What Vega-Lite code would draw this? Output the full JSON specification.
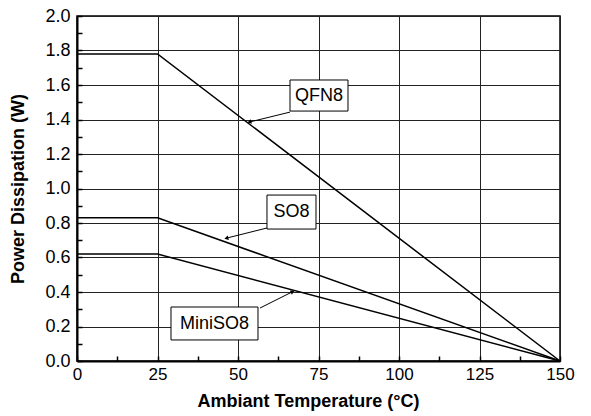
{
  "$schema": "https://vega.github.io/schema/vega-lite/v6.json",
  "width": 483,
  "height": 345,
  "autosize": {"type": "none"},
  "padding": {"left": 77, "top": 16, "right": 31, "bottom": 55},
  "background": "white",
  "config": {
    "view": {"stroke": "black", "strokeWidth": 1.5},
    "font": "Liberation Sans"
  },
  "datasets": {
    "curves": [
      {"series": "QFN8", "temp": 0, "power": 1.78},
      {"series": "QFN8", "temp": 25, "power": 1.78},
      {"series": "QFN8", "temp": 150, "power": 0},
      {"series": "SO8", "temp": 0, "power": 0.83},
      {"series": "SO8", "temp": 25, "power": 0.83},
      {"series": "SO8", "temp": 150, "power": 0},
      {"series": "MiniSO8", "temp": 0, "power": 0.62},
      {"series": "MiniSO8", "temp": 25, "power": 0.62},
      {"series": "MiniSO8", "temp": 150, "power": 0}
    ],
    "notes": [
      {"label": "QFN8", "bx1": 66.15, "bx2": 84.16, "by1": 1.449, "by2": 1.629, "tx": 75.16, "ty": 1.539, "ax1": 66.15, "ay1": 1.443, "ax2": 53.73, "ay2": 1.386},
      {"label": "SO8", "bx1": 59.0, "bx2": 74.22, "by1": 0.765, "by2": 0.962, "tx": 66.6, "ty": 0.864, "ax1": 59.0, "ay1": 0.771, "ax2": 46.58, "ay2": 0.713},
      {"label": "MiniSO8", "bx1": 29.19, "bx2": 56.21, "by1": 0.122, "by2": 0.313, "tx": 42.7, "ty": 0.217, "ax1": 56.83, "ay1": 0.307, "ax2": 66.77, "ay2": 0.4}
    ]
  },
  "layer": [
    {
      "data": {"name": "curves"},
      "mark": {"type": "line", "color": "black", "strokeWidth": 1.5},
      "encoding": {
        "x": {
          "field": "temp", "type": "quantitative",
          "scale": {"domain": [0, 150], "nice": false, "zero": false},
          "axis": {
            "title": "Ambiant Temperature (°C)",
            "values": [0, 12.5, 25, 37.5, 50, 62.5, 75, 87.5, 100, 112.5, 125, 137.5, 150],
            "tickCount": 50,
            "labelExpr": "datum.value % 25 === 0 ? datum.label : ''",
            "labelOverlap": false,
            "labelFontSize": 17, "labelColor": "black", "labelPadding": 10,
            "labelFlush": false,
            "titleFontSize": 18, "titleFontWeight": "bold", "titleColor": "black",
            "titlePadding": 10, "titleX": 231,
            "tickSize": -5, "tickColor": "black", "tickWidth": 1.5,
            "domainColor": "black", "domainWidth": 2,
            "grid": true, "gridColor": "#222", "gridWidth": 1,
            "gridOpacity": {"condition": {"test": "datum.value % 25 !== 0", "value": 0}, "value": 1}
          }
        },
        "y": {
          "field": "power", "type": "quantitative",
          "scale": {"domain": [0, 2], "nice": false, "zero": false},
          "axis": {
            "title": "Power Dissipation (W)",
            "values": [0, 0.1, 0.2, 0.3, 0.4, 0.5, 0.6, 0.7, 0.8, 0.9, 1.0, 1.1, 1.2, 1.3, 1.4, 1.5, 1.6, 1.7, 1.8, 1.9, 2.0],
            "tickCount": 50,
            "labelExpr": "round(datum.value * 10) % 2 === 0 ? format(datum.value, '.1f') : ''",
            "labelOverlap": false,
            "labelFontSize": 18, "labelColor": "black", "labelPadding": 12,
            "labelFlush": false,
            "titleFontSize": 18, "titleFontWeight": "bold", "titleColor": "black",
            "titlePadding": 17,
            "tickSize": -5, "tickColor": "black", "tickWidth": 1.5,
            "domainColor": "black", "domainWidth": 2,
            "grid": true, "gridColor": "#222", "gridWidth": 1,
            "gridOpacity": {"condition": {"test": "round(datum.value * 10) % 2 !== 0", "value": 0}, "value": 1}
          }
        },
        "detail": {"field": "series"}
      }
    },
    {
      "data": {"name": "notes"},
      "mark": {"type": "rule", "color": "black", "strokeWidth": 1},
      "encoding": {
        "x": {"field": "ax1", "type": "quantitative"},
        "y": {"field": "ay1", "type": "quantitative"},
        "x2": {"field": "ax2"},
        "y2": {"field": "ay2"}
      }
    },
    {
      "data": {"name": "notes"},
      "transform": [{"filter": "datum.label !== 'MiniSO8'"}],
      "mark": {"type": "point", "shape": "triangle", "filled": true, "color": "black", "size": 22, "angle": 256, "opacity": 1},
      "encoding": {
        "x": {"field": "ax2", "type": "quantitative"},
        "y": {"field": "ay2", "type": "quantitative"}
      }
    },
    {
      "data": {"name": "notes"},
      "transform": [{"filter": "datum.label === 'MiniSO8'"}],
      "mark": {"type": "point", "shape": "triangle", "filled": true, "color": "black", "size": 22, "angle": 63, "opacity": 1},
      "encoding": {
        "x": {"field": "ax2", "type": "quantitative"},
        "y": {"field": "ay2", "type": "quantitative"}
      }
    },
    {
      "data": {"name": "notes"},
      "mark": {"type": "rect", "fill": "white", "stroke": "black", "strokeWidth": 1},
      "encoding": {
        "x": {"field": "bx1", "type": "quantitative"},
        "x2": {"field": "bx2"},
        "y": {"field": "by1", "type": "quantitative"},
        "y2": {"field": "by2"}
      }
    },
    {
      "data": {"name": "notes"},
      "mark": {"type": "text", "fontSize": 18, "color": "black", "align": "center", "baseline": "middle", "font": "Liberation Sans"},
      "encoding": {
        "x": {"field": "tx", "type": "quantitative"},
        "y": {"field": "ty", "type": "quantitative"},
        "text": {"field": "label"}
      }
    }
  ]
}
